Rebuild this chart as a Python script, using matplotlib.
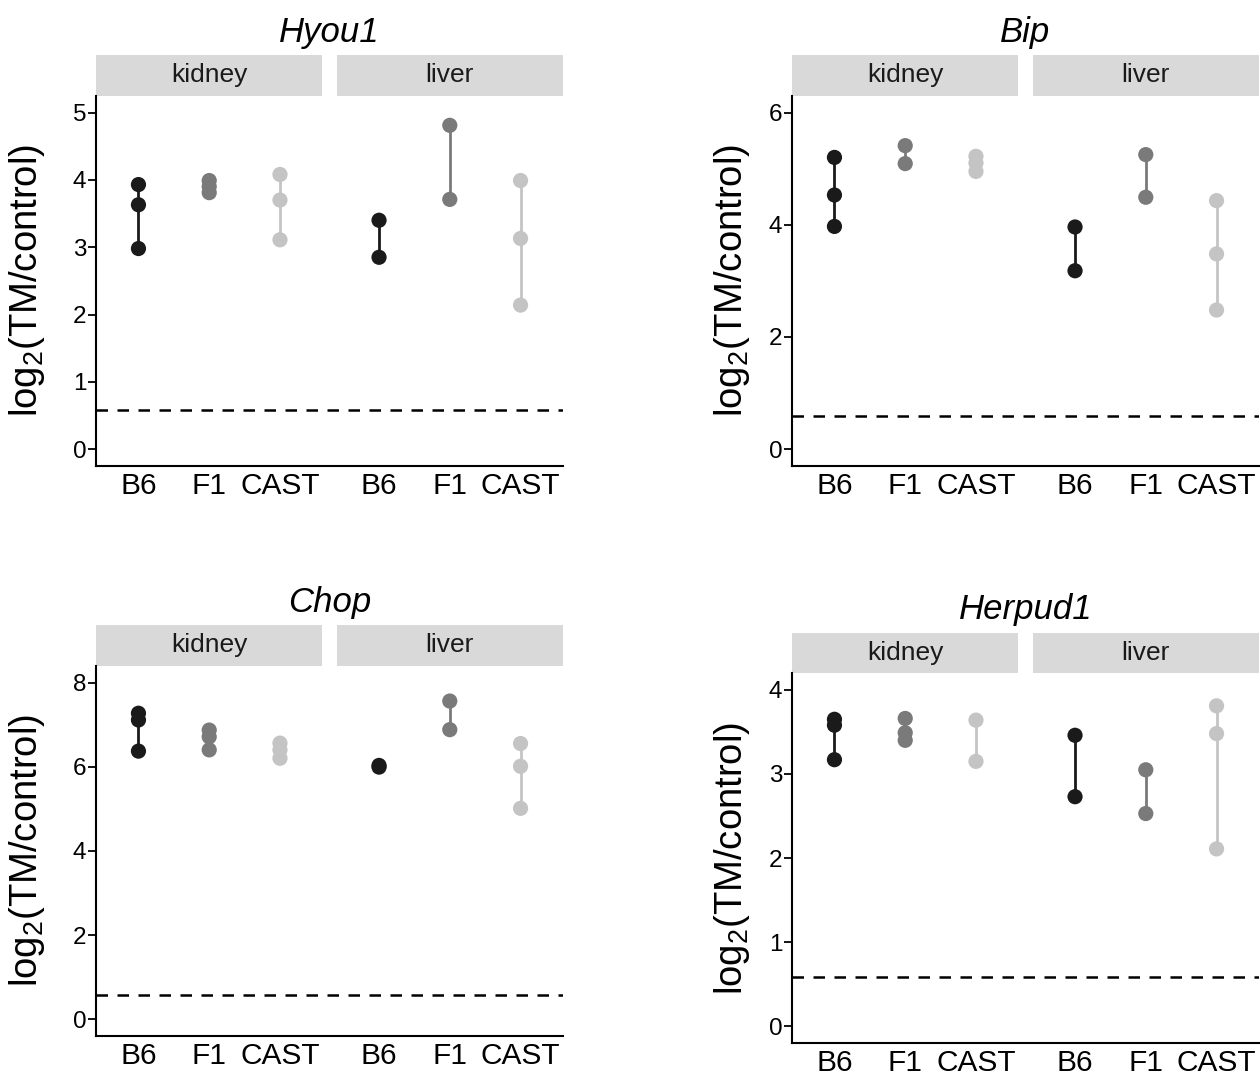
import matplotlib
matplotlib.use("Agg")
import matplotlib.pyplot as plt
from matplotlib.patches import Rectangle
import matplotlib.transforms as mtransforms

plt.rcParams['font.family'] = ['Liberation Sans', 'DejaVu Sans']
plt.rcParams['mathtext.default'] = 'regular'

# ---------------- data ----------------
strains = ["B6", "F1", "CAST"]
tissues = ["kidney", "liver"]
genes = ["Hyou1", "Bip", "Chop", "Herpud1"]
threshold = 0.585  # log2(1.5)

hyou1_kidney = [[3.93, 3.63, 2.98], [3.99, 3.90, 3.81], [4.08, 3.70, 3.11]]
hyou1_liver = [[3.40, 2.85], [4.81, 3.71], [3.99, 3.13, 2.14]]

bip_kidney = [[5.20, 4.53, 3.97], [5.41, 5.09], [5.22, 5.10, 4.95]]
bip_liver = [[3.96, 3.18], [5.25, 4.49], [4.43, 3.48, 2.48]]

chop_kidney = [[7.27, 7.11, 6.37], [6.87, 6.71, 6.40], [6.56, 6.40, 6.20]]
chop_liver = [[6.03, 5.99], [7.56, 6.88], [6.55, 6.01, 5.01]]

herpud1_kidney = [[3.65, 3.58, 3.17], [3.66, 3.49, 3.40], [3.64, 3.15]]
herpud1_liver = [[3.46, 2.73], [3.05, 2.53], [3.81, 3.48, 2.11]]

yticks_hyou1 = [0, 1, 2, 3, 4, 5]
yticks_bip = [0, 2, 4, 6]
yticks_chop = [0, 2, 4, 6, 8]
yticks_herpud1 = [0, 1, 2, 3, 4]

# ---------------- style ----------------
colors = {"B6": "#1a1a1a", "F1": "#7a7a7a", "CAST": "#c4c4c4"}
W, H = 1260, 1075
fig = plt.figure(figsize=(W / 100, H / 100), dpi=100)

def px_rect(left, right, top, bottom):
    return [left / W, 1 - bottom / H, (right - left) / W, (bottom - top) / H]

panels = [
    (genes[0], hyou1_kidney, hyou1_liver, yticks_hyou1, px_rect(96, 563, 95.7, 466), -0.105),
    (genes[1], bip_kidney, bip_liver, yticks_bip, px_rect(792, 1259, 95.7, 466), -0.086),
    (genes[2], chop_kidney, chop_liver, yticks_chop, px_rect(96, 563, 665.7, 1036), -0.105),
    (genes[3], herpud1_kidney, herpud1_liver, yticks_herpud1, px_rect(792, 1259, 673, 1043.3), -0.086),
]

kid_x = [1, 2, 3]
liv_x = [4.4, 5.4, 6.4]
facet_spans = [(0.4, 3.6), (3.8, 7.0)]

for gene, kid, liv, yticks, rect, labx in panels:
    ax = fig.add_axes(rect)
    ymax = yticks[-1]
    pad = 0.05 * ymax
    ax.set_ylim(-pad, ymax + pad)
    ax.set_xlim(0.4, 7.0)

    ax.axhline(threshold, color="black", lw=1.8, linestyle=(0, (4.6, 3.8)), zorder=1)

    for xs, groups in ((kid_x, kid), (liv_x, liv)):
        for xpos, strain, vals in zip(xs, strains, groups):
            c = colors[strain]
            ax.vlines(xpos, min(vals), max(vals), color=c, lw=2.0, zorder=2)
            ax.scatter([xpos] * len(vals), vals, s=120, color=c, edgecolors="none", zorder=3)

    ax.set_xticks(kid_x + liv_x)
    ax.set_xticklabels(strains + strains)
    ax.set_yticks(yticks)
    ax.tick_params(axis="x", length=0, pad=4, labelsize=21.5, colors="black")
    ax.tick_params(axis="y", length=5.5, width=1.3, pad=1.5, labelsize=17.5, colors="black")

    for s in ("top", "right"):
        ax.spines[s].set_visible(False)
    for s in ("left", "bottom"):
        ax.spines[s].set_linewidth(1.5)
        ax.spines[s].set_color("black")

    ax.set_ylabel("log$_2$(TM/control)", fontsize=27.5)
    ax.yaxis.set_label_coords(labx, 0.5)

    # strips
    trans = mtransforms.blended_transform_factory(ax.transData, ax.transAxes)
    ah = rect[3] * H
    strip_h = 40.5 / ah
    for (x0, x1), tname in zip(facet_spans, tissues):
        ax.add_patch(Rectangle((x0, 1.0), x1 - x0, strip_h, transform=trans,
                               facecolor="#d9d9d9", edgecolor="none", clip_on=False))
        ax.text((x0 + x1) / 2, 1.0 + strip_h / 2, tname, transform=trans,
                ha="center", va="center", fontsize=19, color="#1a1a1a")

    # title
    ax.text(0.5, 1.0 + strip_h + 13 / ah, gene, transform=ax.transAxes,
            ha="center", va="baseline", fontsize=25, style="italic", color="black")

fig.savefig("out.png", dpi=100)
